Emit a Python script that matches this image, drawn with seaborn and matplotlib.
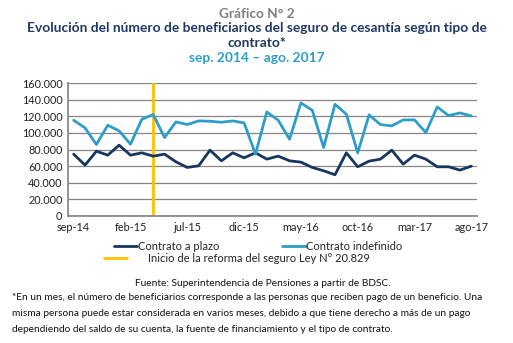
import matplotlib
matplotlib.use("Agg")
import matplotlib.pyplot as plt
import seaborn as sns
import pandas as pd
from matplotlib.lines import Line2D
from matplotlib.ticker import FuncFormatter

months = ["sep-14","oct-14","nov-14","dic-14","ene-15","feb-15","mar-15","abr-15","may-15","jun-15","jul-15","ago-15",
          "sep-15","oct-15","nov-15","dic-15","ene-16","feb-16","mar-16","abr-16","may-16","jun-16","jul-16","ago-16",
          "sep-16","oct-16","nov-16","dic-16","ene-17","feb-17","mar-17","abr-17","may-17","jun-17","jul-17","ago-17"]
plazo = [74400, 61200, 78000, 73200, 85200, 73200, 76000, 72000, 74400, 65200, 58400, 60400,
         79200, 66400, 76000, 70000, 76000, 68400, 72000, 66400, 64800, 58400, 54400, 49600,
         76000, 59200, 66000, 68400, 79200, 62400, 73200, 68400, 59200, 59200, 55200, 60000]
indefinido = [115200, 106000, 86000, 109200, 102400, 86400, 116400, 122000, 94400, 113200, 110000, 114400,
              114000, 112800, 114400, 112000, 74400, 125200, 115200, 92400, 136000, 127200, 82400, 134400,
              122400, 76000, 121600, 110000, 108400, 115600, 115600, 100400, 131200, 120800, 124000, 120400]
tick_labels = ["sep-14", "feb-15", "jul-15", "dic-15", "may-16", "oct-16", "mar-17", "ago-17"]
reform_month = "abr-15"
yticks = [0, 20000, 40000, 60000, 80000, 100000, 120000, 140000, 160000]

c_dark = "#17375E"
c_light = "#2E9EC8"
c_yel = "#FFC000"
c_grid = "#868686"

sns.set_theme(style="white")
plt.rcParams["font.family"] = ["Lato", "DejaVu Sans"]

df = pd.DataFrame({"i": list(range(len(months))) * 2,
                   "value": plazo + indefinido,
                   "serie": ["Contrato a plazo"] * len(months) + ["Contrato indefinido"] * len(months)})

fig = plt.figure(figsize=(5.13, 3.43), dpi=100)
ax = fig.add_axes([68/513, 1-216/343, (477-68)/513, (216-83)/343])

sns.lineplot(data=df, x="i", y="value", hue="serie", palette=[c_dark, c_light],
             linewidth=2.0, ax=ax, legend=False)
ax.axvline(months.index(reform_month), color=c_yel, linewidth=2.0, zorder=1)

ax.set_xlim(-0.5, len(months) - 0.5)
ax.set_ylim(0, 160000)
ax.set_yticks(yticks)
ax.yaxis.set_major_formatter(FuncFormatter(lambda v, p: f"{int(v):,}".replace(",", ".")))
ax.set_xticks([months.index(t) for t in tick_labels])
ax.set_xticklabels(tick_labels)
ax.grid(axis="y", color=c_grid, linewidth=0.9)
ax.set_axisbelow(True)
for s in ["top", "right"]:
    ax.spines[s].set_visible(False)
ax.spines["left"].set_color(c_grid)
ax.spines["bottom"].set_color(c_grid)
ax.tick_params(axis="both", length=0, labelsize=7.8, colors="#222222", pad=4)
ax.set_xlabel("")
ax.set_ylabel("")

# Titles
fig.text(0.5, 1-14/343, "Gráfico N° 2", ha="center", va="center", fontsize=9.8, fontweight="bold", color="#808080")
fig.text(0.5, 1-28/343, "Evolución del número de beneficiarios del seguro de cesantía según tipo de",
         ha="center", va="center", fontsize=9.9, fontweight="bold", color="#1F3864")
fig.text(0.5, 1-43/343, "contrato*", ha="center", va="center", fontsize=9.9, fontweight="bold", color="#1F3864")
fig.text(0.5, 1-58/343, "sep. 2014 – ago. 2017", ha="center", va="center", fontsize=9.9,
         fontweight="bold", color=c_light)

# Legends
h1 = [Line2D([0], [0], color=c_dark, lw=2), Line2D([0], [0], color=c_light, lw=2)]
leg1 = fig.legend(h1, ["Contrato a plazo", "Contrato indefinido"], ncol=2, loc="center",
                  bbox_to_anchor=(258/513, 1-246/343), frameon=False, fontsize=8,
                  handlelength=2.1, handletextpad=0.05, columnspacing=5.7, borderaxespad=0)
h2 = [Line2D([0], [0], color=c_yel, lw=2)]
leg2 = fig.legend(h2, ["Inicio de la reforma del seguro Ley N° 20.829"], loc="center",
                  bbox_to_anchor=(237/513, 1-258/343), frameon=False, fontsize=8,
                  handlelength=2.1, handletextpad=1.9, borderaxespad=0)

# Source and footnote
fig.text(263/513, 1-283/343, "Fuente: Superintendencia de Pensiones a partir de BDSC.",
         ha="center", va="center", fontsize=7.3, color="#111111")
foot = ["*En un mes, el número de beneficiarios corresponde a las personas que reciben pago de un beneficio. Una",
        "misma persona puede estar considerada en varios meses, debido a que tiene derecho a más de un pago",
        "dependiendo del saldo de su cuenta, la fuente de financiamiento y el tipo de contrato."]
for k, line in enumerate(foot):
    fig.text(12/513, 1-(297+16*k)/343, line, ha="left", va="center", fontsize=7.3, color="#111111")

fig.savefig("out.png", dpi=100, facecolor="white")
